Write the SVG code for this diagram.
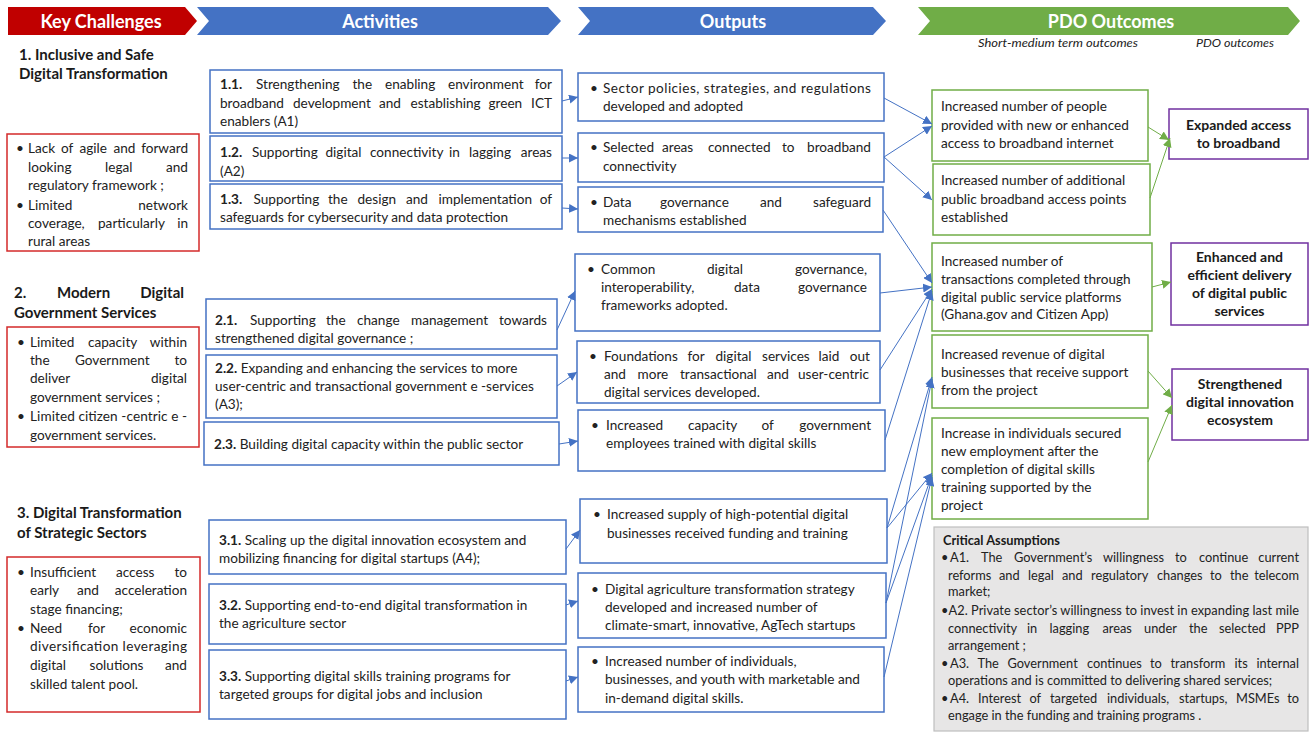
<svg xmlns="http://www.w3.org/2000/svg" width="1310" height="732" viewBox="0 0 1310 732">
<defs>
<style>
.hdr{font-family:Lato,"Liberation Sans",sans-serif;font-weight:bold;font-size:18px;fill:#fff;text-anchor:middle}
.sec{font-family:Lato,"Liberation Sans",sans-serif;font-weight:bold;font-size:15px;fill:#1a1a1a}
.t{font-family:Lato,"Liberation Sans",sans-serif;font-size:13.6px;fill:#222}
.ca{font-family:Lato,"Liberation Sans",sans-serif;font-size:12.8px;fill:#222}
.cab{font-family:Lato,"Liberation Sans",sans-serif;font-size:12.8px;font-weight:bold;fill:#1a1a1a}
.pdo{font-family:Lato,"Liberation Sans",sans-serif;font-size:14px;font-weight:bold;fill:#1a1a1a;text-anchor:middle}
.sub{font-family:Lato,"Liberation Sans",sans-serif;font-size:11px;font-style:italic;fill:#222}
.e{text-anchor:end}
.bw{font-weight:bold}
.bb{fill:#fff;stroke:#4472C4;stroke-width:1.5}
.br{fill:#fff;stroke:#D42A2A;stroke-width:1.5}
.bg{fill:#fff;stroke:#70AD47;stroke-width:1.5}
.bp{fill:#fff;stroke:#7030A0;stroke-width:1.5}
.ln{stroke:#4472C4;stroke-width:1;fill:none;marker-end:url(#ab)}
.lg{stroke:#70AD47;stroke-width:1;fill:none;marker-end:url(#ag)}
</style>
<marker id="ab" viewBox="0 0 10 10" refX="10" refY="5" markerWidth="9" markerHeight="9" markerUnits="userSpaceOnUse" orient="auto"><path d="M0,0 L10,5 L0,10 z" fill="#4472C4"/></marker>
<marker id="ag" viewBox="0 0 10 10" refX="10" refY="5" markerWidth="9" markerHeight="9" markerUnits="userSpaceOnUse" orient="auto"><path d="M0,0 L10,5 L0,10 z" fill="#70AD47"/></marker>
</defs>
<rect width="1310" height="732" fill="#fff"/>

<g id="headers">
<polygon points="8,7 185,7 197,21 185,35 8,35" fill="#C00000"/>
<text class="hdr" x="101" y="27.5">Key Challenges</text>
<polygon points="197,7 548,7 561,21 548,35 197,35 209,21" fill="#4472C4"/>
<text class="hdr" x="380" y="27.5">Activities</text>
<polygon points="578,7 873,7 886,21 873,35 578,35 590,21" fill="#4472C4"/>
<text class="hdr" x="733" y="27.5">Outputs</text>
<polygon points="918,7 1288,7 1300,21 1288,35 918,35 930,21" fill="#70AD47"/>
<text class="hdr" x="1111" y="27.5">PDO Outcomes</text>
<text class="sub" x="978" y="47" textLength="160" lengthAdjust="spacingAndGlyphs">Short-medium term outcomes</text>
<text class="sub" x="1196" y="47" textLength="78" lengthAdjust="spacingAndGlyphs">PDO outcomes</text>
</g>

<g id="challenge-1">
<text class="sec" x="19" y="60">1. Inclusive and Safe</text>
<text class="sec" x="19" y="79">Digital Transformation</text>
<rect class="br" x="7" y="134" width="192" height="117"/>
<text class="t" x="16" y="153">•</text>
<text class="t" y="153"><tspan x="28">Lack</tspan><tspan x="61">of</tspan><tspan x="79.5">agile</tspan><tspan x="113.5">and</tspan></text><text class="t e" x="188" y="153">forward</text>
<text class="t" y="171.5"><tspan x="28">looking</tspan><tspan x="105">legal</tspan></text><text class="t e" x="188" y="171.5">and</text>
<text class="t" x="28" y="189.5">regulatory framework ;</text>
<text class="t" x="16" y="209.5">•</text>
<text class="t" x="28" y="209.5">Limited</text><text class="t e" x="188" y="209.5">network</text>
<text class="t" y="227.5"><tspan x="28">coverage,</tspan><tspan x="98">particularly</tspan></text><text class="t e" x="188" y="227.5">in</text>
<text class="t" x="28" y="246">rural areas</text>
</g>

<g id="challenge-2">
<text class="sec" x="14" y="298">2.</text><text class="sec" x="57" y="298">Modern</text><text class="sec e" x="184" y="298">Digital</text>
<text class="sec" x="14" y="318">Government Services</text>
<rect class="br" x="7" y="327" width="192" height="120"/>
<text class="t" x="17" y="346.5">•</text>
<text class="t" y="346.5"><tspan x="30">Limited</tspan><tspan x="88">capacity</tspan></text><text class="t e" x="187" y="346.5">within</text>
<text class="t" y="364.5"><tspan x="30">the</tspan><tspan x="75">Government</tspan></text><text class="t e" x="187" y="364.5">to</text>
<text class="t" x="30" y="383">deliver</text><text class="t e" x="187" y="383">digital</text>
<text class="t" x="30" y="401.5">government services ;</text>
<text class="t" x="17" y="421">•</text>
<text class="t" x="30" y="421" textLength="157" lengthAdjust="spacing">Limited citizen -centric e -</text>
<text class="t" x="30" y="439.5">government services.</text>
</g>

<g id="challenge-3">
<text class="sec" x="17" y="518">3. Digital Transformation</text>
<text class="sec" x="17" y="538">of Strategic Sectors</text>
<rect class="br" x="7" y="557" width="193" height="155"/>
<text class="t" x="17" y="576.5">•</text>
<text class="t" y="576.5"><tspan x="30">Insufficient</tspan><tspan x="116">access</tspan></text><text class="t e" x="187" y="576.5">to</text>
<text class="t" y="594.5"><tspan x="30">early</tspan><tspan x="77">and</tspan></text><text class="t e" x="187" y="594.5">acceleration</text>
<text class="t" x="30" y="613.5">stage financing;</text>
<text class="t" x="17" y="632.5">•</text>
<text class="t" y="632.5"><tspan x="30">Need</tspan><tspan x="88">for</tspan></text><text class="t e" x="187" y="632.5">economic</text>
<text class="t" x="30" y="651" textLength="157" lengthAdjust="spacing">diversification leveraging</text>
<text class="t" y="670"><tspan x="30">digital</tspan><tspan x="89.5">solutions</tspan></text><text class="t e" x="187" y="670">and</text>
<text class="t" x="30" y="688.5">skilled talent pool.</text>
</g>

<g id="activity-1-1">
<rect class="bb" x="210" y="70" width="352" height="63"/>
<text class="t" y="89"><tspan x="220" class="bw">1.1.</tspan><tspan x="256">Strengthening</tspan><tspan x="352.5">the</tspan><tspan x="385">enabling</tspan><tspan x="448">environment</tspan></text><text class="t e" x="552" y="89">for</text>
<text class="t" y="108"><tspan x="220">broadband</tspan><tspan x="293">development</tspan><tspan x="379">and</tspan><tspan x="410.5">establishing</tspan><tspan x="488.5">green</tspan></text><text class="t e" x="552" y="108">ICT</text>
<text class="t" x="220" y="126">enablers (A1)</text>
</g>
<g id="activity-1-2">
<rect class="bb" x="210" y="136" width="352" height="45"/>
<text class="t" y="157"><tspan x="220" class="bw">1.2.</tspan><tspan x="252">Supporting</tspan><tspan x="325.5">digital</tspan><tspan x="370">connectivity</tspan><tspan x="449">in</tspan><tspan x="469">lagging</tspan></text><text class="t e" x="552" y="157">areas</text>
<text class="t" x="220" y="176">(A2)</text>
</g>
<g id="activity-1-3">
<rect class="bb" x="210" y="184" width="352" height="45"/>
<text class="t" y="204"><tspan x="220" class="bw">1.3.</tspan><tspan x="253.5">Supporting</tspan><tspan x="328">the</tspan><tspan x="357.5">design</tspan><tspan x="406">and</tspan><tspan x="438.5">implementation</tspan></text><text class="t e" x="552" y="204">of</text>
<text class="t" x="220" y="222">safeguards for cybersecurity and data protection</text>
</g>
<g id="activity-2-1">
<rect class="bb" x="206" y="299" width="351" height="50"/>
<text class="t" y="324.5"><tspan x="215" class="bw">2.1.</tspan><tspan x="250">Supporting</tspan><tspan x="326">the</tspan><tspan x="357">change</tspan><tspan x="411">management</tspan></text><text class="t e" x="547" y="324.5">towards</text>
<text class="t" x="215" y="342.5">strengthened digital governance ;</text>
</g>
<g id="activity-2-2">
<rect class="bb" x="206" y="355" width="351" height="63"/>
<text class="t" x="215" y="372.5"><tspan class="bw">2.2.</tspan> Expanding and enhancing the services to more</text>
<text class="t" x="215" y="390.5">user-centric and transactional government e -services</text>
<text class="t" x="215" y="408.5">(A3);</text>
</g>
<g id="activity-2-3">
<rect class="bb" x="204" y="422" width="355" height="43"/>
<text class="t" x="214" y="449"><tspan class="bw">2.3.</tspan> Building digital capacity within the public sector</text>
</g>
<g id="activity-3-1">
<rect class="bb" x="209" y="520" width="357" height="54"/>
<text class="t" x="219" y="544.5"><tspan class="bw">3.1.</tspan> Scaling up the digital innovation ecosystem and</text>
<text class="t" x="219" y="563">mobilizing financing for digital startups (A4);</text>
</g>
<g id="activity-3-2">
<rect class="bb" x="209" y="584" width="357" height="60"/>
<text class="t" x="219" y="609.5"><tspan class="bw">3.2.</tspan> Supporting end-to-end digital transformation in</text>
<text class="t" x="219" y="627.5">the agriculture sector</text>
</g>
<g id="activity-3-3">
<rect class="bb" x="209" y="650" width="357" height="69"/>
<text class="t" x="219" y="680.5"><tspan class="bw">3.3.</tspan> Supporting digital skills training programs for</text>
<text class="t" x="219" y="698.5">targeted groups for digital jobs and inclusion</text>
</g>

<g id="output-1">
<rect class="bb" x="578" y="73" width="306" height="48"/>
<text class="t" x="590" y="92.5">•</text>
<text class="t" x="603" y="92.5" textLength="268" lengthAdjust="spacing">Sector policies, strategies, and regulations</text>
<text class="t" x="603" y="111">developed and adopted</text>
</g>
<g id="output-2">
<rect class="bb" x="578" y="133" width="306" height="49"/>
<text class="t" x="590" y="151.5">•</text>
<text class="t" y="151.5"><tspan x="603">Selected</tspan><tspan x="662">areas</tspan><tspan x="708">connected</tspan><tspan x="782">to</tspan></text><text class="t e" x="871" y="151.5">broadband</text>
<text class="t" x="603" y="170.5">connectivity</text>
</g>
<g id="output-3">
<rect class="bb" x="578" y="187" width="305" height="45"/>
<text class="t" x="590" y="207">•</text>
<text class="t" y="207"><tspan x="603">Data</tspan><tspan x="660">governance</tspan><tspan x="760">and</tspan></text><text class="t e" x="871" y="207">safeguard</text>
<text class="t" x="603" y="224.5">mechanisms established</text>
</g>
<g id="output-4">
<rect class="bb" x="575" y="254" width="305" height="77"/>
<text class="t" x="587" y="273.5">•</text>
<text class="t" y="273.5"><tspan x="601">Common</tspan><tspan x="707">digital</tspan></text><text class="t e" x="867" y="273.5">governance,</text>
<text class="t" y="291.5"><tspan x="601">interoperability,</tspan><tspan x="734">data</tspan></text><text class="t e" x="867" y="291.5">governance</text>
<text class="t" x="601" y="309.5">frameworks adopted.</text>
</g>
<g id="output-5">
<rect class="bb" x="577" y="341" width="303" height="62"/>
<text class="t" x="589" y="360.5">•</text>
<text class="t" y="360.5"><tspan x="604">Foundations</tspan><tspan x="687.5">for</tspan><tspan x="715.5">digital</tspan><tspan x="762">services</tspan><tspan x="818.5">laid</tspan></text><text class="t e" x="870" y="360.5">out</text>
<text class="t" y="378.5"><tspan x="604">and</tspan><tspan x="637.5">more</tspan><tspan x="680">transactional</tspan><tspan x="767">and</tspan></text><text class="t e" x="869" y="378.5">user-centric</text>
<text class="t" x="604" y="396.5">digital services developed.</text>
</g>
<g id="output-6">
<rect class="bb" x="578" y="410" width="307" height="61"/>
<text class="t" x="591" y="429.5">•</text>
<text class="t" y="429.5"><tspan x="606">Increased</tspan><tspan x="688">capacity</tspan><tspan x="761.5">of</tspan></text><text class="t e" x="871" y="429.5">government</text>
<text class="t" x="606" y="447.5">employees trained with digital skills</text>
</g>
<g id="output-7">
<rect class="bb" x="580" y="499" width="307" height="64"/>
<text class="t" x="593" y="518.5">•</text>
<text class="t" x="607" y="518.5">Increased supply of high-potential digital</text>
<text class="t" x="607" y="537.5">businesses received funding and training</text>
</g>
<g id="output-8">
<rect class="bb" x="578" y="573" width="308" height="65"/>
<text class="t" x="591" y="593.5">•</text>
<text class="t" x="605" y="593.5">Digital agriculture transformation strategy</text>
<text class="t" x="605" y="611.5">developed and increased number of</text>
<text class="t" x="605" y="630">climate-smart, innovative, AgTech startups</text>
</g>
<g id="output-9">
<rect class="bb" x="578" y="647" width="306" height="65"/>
<text class="t" x="591" y="665.5">•</text>
<text class="t" x="605" y="665.5">Increased number of individuals,</text>
<text class="t" x="605" y="683.5">businesses, and youth with marketable and</text>
<text class="t" x="605" y="702.5">in-demand digital skills.</text>
</g>

<g id="outcome-1">
<rect class="bg" x="932" y="90" width="216" height="71"/>
<text class="t" x="941" y="111">Increased number of people</text>
<text class="t" x="941" y="129.5">provided with new or enhanced</text>
<text class="t" x="941" y="148">access to broadband internet</text>
</g>
<g id="outcome-2">
<rect class="bg" x="933" y="164" width="217" height="71"/>
<text class="t" x="941" y="184.5">Increased number of additional</text>
<text class="t" x="941" y="203.5">public broadband access points</text>
<text class="t" x="941" y="221.5">established</text>
</g>
<g id="outcome-3">
<rect class="bg" x="932" y="243" width="220" height="88"/>
<text class="t" x="941" y="265.5">Increased number of</text>
<text class="t" x="941" y="283.5">transactions completed through</text>
<text class="t" x="941" y="301.5">digital public service platforms</text>
<text class="t" x="941" y="319">(Ghana.gov and Citizen App)</text>
</g>
<g id="outcome-4">
<rect class="bg" x="932" y="335" width="216" height="73"/>
<text class="t" x="941" y="359">Increased revenue of digital</text>
<text class="t" x="941" y="377">businesses that receive support</text>
<text class="t" x="941" y="395">from the project</text>
</g>
<g id="outcome-5">
<rect class="bg" x="932" y="418" width="216" height="101"/>
<text class="t" x="941" y="437.5">Increase in individuals secured</text>
<text class="t" x="941" y="455.5">new employment after the</text>
<text class="t" x="941" y="474">completion of digital skills</text>
<text class="t" x="941" y="491.5">training supported by the</text>
<text class="t" x="941" y="509.5">project</text>
</g>

<g id="pdo-1">
<rect class="bp" x="1169" y="109" width="139" height="50"/>
<text class="pdo" x="1238.5" y="129.5">Expanded access</text>
<text class="pdo" x="1238.5" y="147.5">to broadband</text>
</g>
<g id="pdo-2">
<rect class="bp" x="1171" y="243" width="137" height="82"/>
<text class="pdo" x="1239.5" y="261.5">Enhanced and</text>
<text class="pdo" x="1239.5" y="279.5">efficient delivery</text>
<text class="pdo" x="1239.5" y="297.5">of digital public</text>
<text class="pdo" x="1239.5" y="316">services</text>
</g>
<g id="pdo-3">
<rect class="bp" x="1172" y="369" width="136" height="71"/>
<text class="pdo" x="1240" y="388.5">Strengthened</text>
<text class="pdo" x="1240" y="406.5">digital innovation</text>
<text class="pdo" x="1240" y="425">ecosystem</text>
</g>

<g id="critical-assumptions">
<rect x="934" y="527" width="374" height="204" fill="#E7E6E6" stroke="#BFBFBF" stroke-width="1.2"/>
<text class="cab" x="943" y="545">Critical Assumptions</text>
<text class="ca" y="562"><tspan x="941">•</tspan><tspan x="950">A1.</tspan><tspan x="981">The</tspan><tspan x="1014">Government’s</tspan><tspan x="1103">willingness</tspan><tspan x="1175">to</tspan><tspan x="1199">continue</tspan></text><text class="ca e" x="1299" y="562">current</text>
<text class="ca" y="579.5"><tspan x="948">reforms</tspan><tspan x="999">and</tspan><tspan x="1028">legal</tspan><tspan x="1062">and</tspan><tspan x="1091">regulatory</tspan><tspan x="1157">changes</tspan><tspan x="1210">to</tspan><tspan x="1230">the</tspan></text><text class="ca e" x="1299" y="579.5">telecom</text>
<text class="ca" x="948" y="596">market;</text>
<text class="ca" x="941" y="615" textLength="358" lengthAdjust="spacing">•A2. Private sector’s willingness to invest in expanding last mile</text>
<text class="ca" y="632.5"><tspan x="948">connectivity</tspan><tspan x="1027">in</tspan><tspan x="1049.5">lagging</tspan><tspan x="1102.5">areas</tspan><tspan x="1144">under</tspan><tspan x="1189">the</tspan><tspan x="1219">selected</tspan></text><text class="ca e" x="1299" y="632.5">PPP</text>
<text class="ca" x="948" y="649.5">arrangement ;</text>
<text class="ca" y="667.5"><tspan x="941">•</tspan><tspan x="950">A3.</tspan><tspan x="977.5">The</tspan><tspan x="1007.5">Government</tspan><tspan x="1087">continues</tspan><tspan x="1150">to</tspan><tspan x="1170.5">transform</tspan><tspan x="1234.5">its</tspan></text><text class="ca e" x="1299" y="667.5">internal</text>
<text class="ca" x="948" y="685">operations and is committed to delivering shared services;</text>
<text class="ca" y="702.5"><tspan x="941">•</tspan><tspan x="950">A4.</tspan><tspan x="978">Interest</tspan><tspan x="1029.5">of</tspan><tspan x="1050">targeted</tspan><tspan x="1107">individuals,</tspan><tspan x="1179">startups,</tspan><tspan x="1236">MSMEs</tspan></text><text class="ca e" x="1299" y="702.5">to</text>
<text class="ca" x="948" y="720">engage in the funding and training programs .</text>
</g>

<g id="connectors">
<line class="ln" x1="562" y1="101" x2="578" y2="97"/>
<line class="ln" x1="562" y1="158" x2="578" y2="158"/>
<line class="ln" x1="562" y1="208" x2="578" y2="209"/>
<line class="ln" x1="557" y1="330" x2="575" y2="291"/>
<line class="ln" x1="557" y1="386" x2="577" y2="372"/>
<line class="ln" x1="559" y1="444" x2="578" y2="441"/>
<line class="ln" x1="566" y1="549" x2="580" y2="530"/>
<line class="ln" x1="566" y1="605" x2="578" y2="601"/>
<line class="ln" x1="566" y1="681" x2="578" y2="677"/>
<line class="ln" x1="884" y1="98" x2="932" y2="124"/>
<line class="ln" x1="884" y1="157" x2="932" y2="126"/>
<line class="ln" x1="884" y1="157" x2="932" y2="200"/>
<line class="ln" x1="883" y1="210" x2="932" y2="283"/>
<line class="ln" x1="880" y1="293" x2="932" y2="287"/>
<line class="ln" x1="880" y1="370" x2="932" y2="289"/>
<line class="ln" x1="885" y1="440" x2="932" y2="291"/>
<line class="ln" x1="887" y1="528" x2="932" y2="377"/>
<line class="ln" x1="887" y1="528" x2="932" y2="473"/>
<line class="ln" x1="886" y1="603" x2="932" y2="379"/>
<line class="ln" x1="886" y1="603" x2="932" y2="475"/>
<line class="ln" x1="884" y1="677" x2="932" y2="477"/>
<line class="lg" x1="1148" y1="127" x2="1169" y2="140"/>
<line class="lg" x1="1150" y1="198" x2="1170" y2="138"/>
<line class="lg" x1="1152" y1="287" x2="1171" y2="282"/>
<line class="lg" x1="1148" y1="371" x2="1172" y2="398"/>
<line class="lg" x1="1148" y1="462" x2="1172" y2="405"/>
</g>
</svg>
